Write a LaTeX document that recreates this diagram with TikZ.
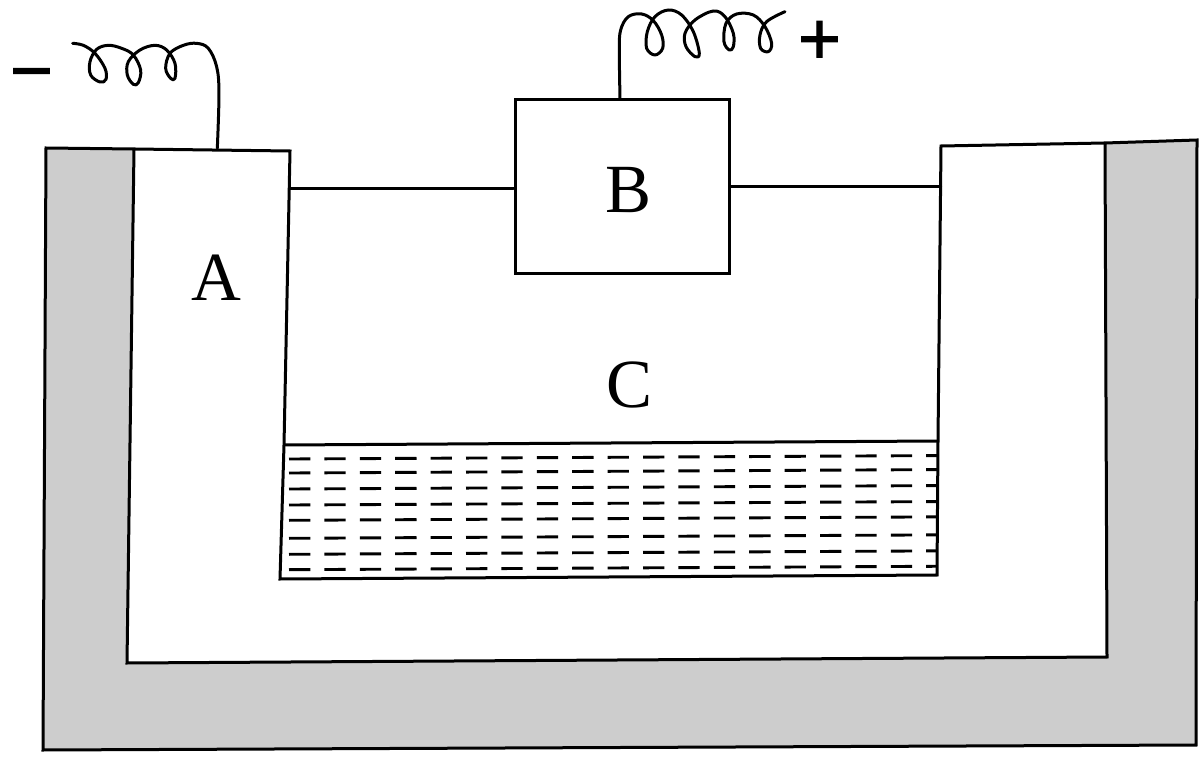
\documentclass[tikz,border=0pt]{standalone}
\usepackage{fontspec}
\setmainfont{Liberation Serif}
\newfontfamily\signfont[FakeBold=1.2]{Liberation Sans}
\definecolor{wallgray}{HTML}{CDCDCD}
\tikzset{
  outline/.style={draw=black,line width=3pt,line join=miter},
  wire/.style={draw=black,line width=3pt,line cap=round,line join=round},
  letter/.style={inner sep=0pt,font=\fontsize{69}{69}\selectfont},
  sign/.style={inner sep=0pt,font=\signfont\fontsize{74}{74}\selectfont},
  levdash/.style={draw=black,line width=2.9pt},
  coilone/.style={shift={(0,20)},x=0.3333pt,y=-0.3333pt},
  coiltwo/.style={shift={(600,0)},x=0.3333pt,y=-0.3333pt}
}
\begin{document}
\begin{tikzpicture}[x=1pt,y=-1pt]
\useasboundingbox (0,0) rectangle (1200,759);
% outer wall
\draw[outline,fill=wallgray] (46,148) -- (134,149) -- (127,663) -- (1107,657) -- (1105,143) -- (1197,140) -- (1196,745) -- (43,750) -- cycle;
% electrode edges
\draw[outline] (134,149) -- (290,151) -- (284,445) -- (280,579) -- (937,575) -- (938,441) -- (941,146) -- (1105,143);
% liquid
\draw[outline] (284,445) -- (938,441);
\begin{scope}
\clip (280,445) -- (938,441) -- (937.5,575) -- (280,579) -- cycle;
\foreach \ry in {459,473,489,505,520.3,538.3,554.3,569.7}{
  \foreach \k in {0,...,18}{
    \pgfmathsetmacro{\xa}{289+35.4*\k}
    \pgfmathsetmacro{\ya}{\ry-0.0053*35.4*\k}
    \draw[levdash] (\xa,\ya) -- ++(21.3,-0.1);
  }
}
\end{scope}
% control box and wires
\node[outline,fill=white,minimum width=214pt,minimum height=174pt,inner sep=0pt] (boxB) at (622,186.5) {};
\coordinate (leftwall) at (290,188.5);
\coordinate (rightwall) at (940.5,187);
\draw[wire] (leftwall) -- (boxB.west |- leftwall);
\draw[wire] (boxB.east |- rightwall) -- (rightwall);
% coils
\begin{scope}[coilone]
\draw[wire] plot[smooth,tension=0.6] coordinates {(218,70) (250,76) (285,100) (315,145) (318,178) (300,186) (272,165) (270,125) (290,88) (325,76) (365,85) (400,105) (422,150) (415,188) (400,193) (382,165) (385,125) (420,90) (465,76) (500,90) (525,130) (525,175) (512,175) (497,145) (510,100) (550,76) (590,70) (625,85) (650,140) (657,220) (652,385)};
\end{scope}
\begin{scope}[coiltwo]
\draw[wire] plot[smooth,tension=0.6] coordinates {(60,295) (58,150) (62,90) (85,50) (125,42) (160,62) (185,105) (188,145) (165,165) (140,145) (142,95) (165,50) (205,30) (245,45) (280,95) (298,160) (285,170) (258,140) (255,100) (285,60) (340,33) (375,50) (400,100) (400,140) (388,150) (372,125) (378,70) (410,42) (460,45) (495,80) (515,130) (505,155) (482,145) (480,105) (500,65) (555,35)};
\end{scope}
% labels
\node[letter] (labA) at (216.5,278) {A};
\node[letter] (labB) at (628.5,190) {B};
\node[letter] (labC) at (629.5,385) {C};
\node[sign] (minus) at (31.5,82) {−};
\node[sign] (plus) at (819.5,42.5) {+};
\end{tikzpicture}
\end{document}
